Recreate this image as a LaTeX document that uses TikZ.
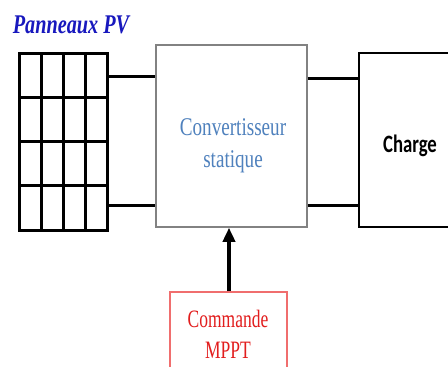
\documentclass[tikz,border=0pt]{standalone}
\usepackage{fontspec}
\usetikzlibrary{arrows.meta,calc}
\newfontfamily\narrowserif[FakeStretch=0.75]{Liberation Serif}
\newfontfamily\cmdserif[FakeStretch=0.70]{Liberation Serif}
\newfontfamily\narrowsans[FakeStretch=0.75]{Carlito}
\definecolor{titleblue}{RGB}{24,24,190}
\definecolor{convblue}{RGB}{79,129,189}
\definecolor{cmdred}{RGB}{226,30,30}
\definecolor{cmdframe}{RGB}{240,110,110}
\definecolor{convframe}{RGB}{130,130,130}
\tikzset{
  wire/.style={line width=3pt, black},
  gridline/.style={line width=3pt, black},
  blockbox/.style={rectangle, inner sep=0pt},
}
\begin{document}
\begin{tikzpicture}[x=1pt, y=-1pt]
  \clip (0,0) rectangle (448,367);
  \fill[white] (0,0) rectangle (448,367);

  % title
  \node[font=\narrowserif\bfseries\itshape\fontsize{27}{30}\selectfont, text=titleblue, anchor=base]
    (title) at (71,33) {Panneaux PV};

  % PV panel: 4 x 4 cells
  \node[blockbox, draw, line width=3pt, minimum width=88pt, minimum height=177pt]
    (pv) at (63,141.5) {};
  \foreach \x in {41,63,85} \draw[gridline] (\x,53) -- (\x,230);
  \foreach \y in {97.25,141.5,185.75} \draw[gridline] (19,\y) -- (107,\y);

  % static converter
  \node[blockbox, draw=convframe, line width=1.5pt, minimum width=151pt, minimum height=182pt]
    (conv) at (231.5,136) {};
  \node[font=\narrowserif\fontsize{25.5}{32}\selectfont, text=convblue, align=center]
    (convtext) at (233,146) {Convertisseur\\statique};

  % load
  \node[blockbox, draw, line width=2pt, minimum width=130pt, minimum height=174pt]
    (load) at (424,140) {};
  \node[font=\narrowsans\bfseries\fontsize{25}{30}\selectfont, anchor=base]
    (loadtext) at (410,152) {Charge};

  % MPPT control
  \node[blockbox, draw=cmdframe, line width=1.5pt, minimum width=117pt, minimum height=110pt]
    (cmd) at (228.5,347) {};
  \node[font=\cmdserif\fontsize{25}{31}\selectfont, text=cmdred, align=center]
    (cmdtext) at (228,334) {Commande\\MPPT};

  % connections
  \draw[wire] ([yshift=65.5pt]pv.east) -- ([yshift=65.5pt]pv.east -| conv.west);
  \draw[wire] ([yshift=-63.5pt]pv.east) -- ([yshift=-63.5pt]pv.east -| conv.west);
  \draw[wire] ([yshift=62pt]load.west -| conv.east) -- ([yshift=62pt]load.west);
  \draw[wire] ([yshift=-65pt]load.west -| conv.east) -- ([yshift=-65pt]load.west);

  % control signal
  \draw[line width=4pt, -{Triangle[width=12pt,length=14pt]}]
    ([xshift=0.5pt]cmd.north) -- ([xshift=0.5pt]cmd.north |- conv.south);
\end{tikzpicture}
\end{document}
